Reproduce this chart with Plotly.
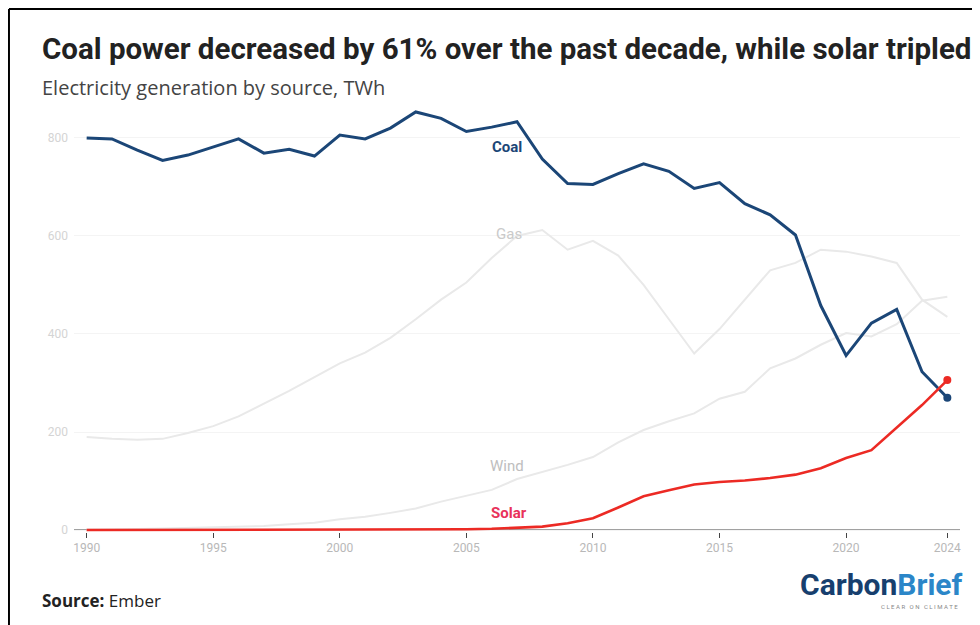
import plotly.graph_objects as go

years = list(range(1990, 2025))

coal = [800, 798, 775, 754, 765, 782, 798, 769, 777, 763,
        806, 798, 820, 853, 840, 813, 822, 833, 757, 707,
        705, 727, 747, 732, 697, 709, 666, 643, 602, 458,
        356, 422, 450, 323, 270]

solar = [0, 0, 0, 0, 0, 0, 0, 0, 0, 0,
         0, 0, 0.5, 0.5, 1, 1.5, 2.5, 4, 7, 14,
         24, 46, 69, 81, 93, 98, 101, 106, 113, 126,
         147, 163, 210, 255, 306]

gas = [190, 186, 184, 186, 198, 212, 232, 258, 284, 312,
       340, 362, 392, 430, 470, 505, 555, 600, 612, 572,
       590, 560, 500, 430, 360, 410, 470, 530, 545, 572,
       568, 558, 545, 470, 435]

wind = [1, 1, 2, 3, 4, 5, 6, 8, 12, 15,
        22, 27, 35, 44, 58, 70, 82, 104, 118, 133,
        149, 179, 204, 222, 238, 268, 282, 330, 350, 378,
        402, 395, 420, 468, 476]

x_ticks = [1990, 1995, 2000, 2005, 2010, 2015, 2020, 2024]
y_ticks = [0, 200, 400, 600, 800]

COAL_C = "#1b4677"
SOLAR_C = "#ec2a24"
FAINT_C = "#e9e9e9"

fig = go.Figure()
fig.add_trace(go.Scatter(x=years, y=gas, mode="lines", line=dict(color=FAINT_C, width=2), hoverinfo="skip"))
fig.add_trace(go.Scatter(x=years, y=wind, mode="lines", line=dict(color=FAINT_C, width=2), hoverinfo="skip"))
fig.add_trace(go.Scatter(x=years, y=coal, mode="lines", line=dict(color=COAL_C, width=3)))
fig.add_trace(go.Scatter(x=years, y=solar, mode="lines", line=dict(color=SOLAR_C, width=2.6)))
fig.add_trace(go.Scatter(x=[years[-1]], y=[coal[-1]], mode="markers", marker=dict(color=COAL_C, size=8)))
fig.add_trace(go.Scatter(x=[years[-1]], y=[solar[-1]], mode="markers", marker=dict(color=SOLAR_C, size=8)))

fig.update_layout(
    width=980, height=625,
    margin=dict(l=66, r=28, t=101, b=101),
    paper_bgcolor="white", plot_bgcolor="white",
    showlegend=False,
    xaxis=dict(range=[1989.5, 2024.5], tickvals=x_ticks, ticktext=[str(v) for v in x_ticks],
               showgrid=False, zeroline=False, showline=False,
               ticks="outside", ticklen=5, tickcolor="#444", tickwidth=1,
               tickfont=dict(family="Roboto, sans-serif", size=12, color="#b8b8b8")),
    yaxis=dict(range=[-4, 859], tickvals=y_ticks, showgrid=True, gridcolor="#f4f4f4",
               zeroline=False, showline=False, ticks="", ticklabelstandoff=5,
               tickfont=dict(family="Roboto, sans-serif", size=12, color="#d4d4d4")),
)

# x-axis baseline
fig.add_shape(type="line", xref="paper", yref="y", x0=0, x1=1, y0=0, y1=0,
              line=dict(color="#444", width=1.2), layer="below")

# series labels
fig.add_annotation(x=2006.6, y=782, text="<b>Coal</b>", showarrow=False, xref="x", yref="y",
                   font=dict(family="Roboto, sans-serif", size=15, color=COAL_C))
fig.add_annotation(x=2006.7, y=604, text="Gas", showarrow=False, xref="x", yref="y",
                   font=dict(family="Roboto, sans-serif", size=15, color="#cacaca"))
fig.add_annotation(x=2006.6, y=131, text="Wind", showarrow=False, xref="x", yref="y",
                   font=dict(family="Roboto, sans-serif", size=15, color="#bebebe"))
fig.add_annotation(x=2006.7, y=35, text="<b>Solar</b>", showarrow=False, xref="x", yref="y",
                   font=dict(family="Roboto, sans-serif", size=15, color="#e8325a"))

# title, subtitle, source
fig.add_annotation(xref="paper", yref="paper", x=-0.0388, y=1.143, xanchor="left", yanchor="middle",
                   text="<b>Coal power decreased by 61% over the past decade, while solar tripled</b>",
                   showarrow=False, font=dict(family="Roboto, sans-serif", size=29.5, color="#222"))
fig.add_annotation(xref="paper", yref="paper", x=-0.0388, y=1.051, xanchor="left", yanchor="middle",
                   text="Electricity generation by source, TWh",
                   showarrow=False, font=dict(family="Open Sans, sans-serif", size=20, color="#444"))
fig.add_annotation(xref="paper", yref="paper", x=-0.0388, y=-0.163, xanchor="left", yanchor="middle",
                   text="<b>Source:</b> Ember",
                   showarrow=False, font=dict(family="Open Sans, sans-serif", size=17, color="#222"))
fig.add_annotation(xref="paper", yref="paper", x=1.0056, y=-0.125, xanchor="right", yanchor="middle",
                   text="<b><span style='color:#173f6e'>Carbon</span><span style='color:#2b86c8'>Brief</span></b>",
                   showarrow=False, font=dict(family="Roboto, sans-serif", size=30))
fig.add_annotation(xref="paper", yref="paper", x=1.0, y=-0.176, xanchor="right", yanchor="middle",
                   text="C L E A R   O N   C L I M A T E",
                   showarrow=False, font=dict(family="Roboto, sans-serif", size=6, color="#888"))

# frame (top and left edges)
fig.add_shape(type="line", xref="paper", yref="paper",
              x0=-0.0734, x1=1.1, y0=1.2364, y1=1.2364, line=dict(color="black", width=2))
fig.add_shape(type="line", xref="paper", yref="paper",
              x0=-0.0734, x1=-0.0734, y0=1.2364, y1=-0.3, line=dict(color="black", width=2))

fig.write_html("out.html")
